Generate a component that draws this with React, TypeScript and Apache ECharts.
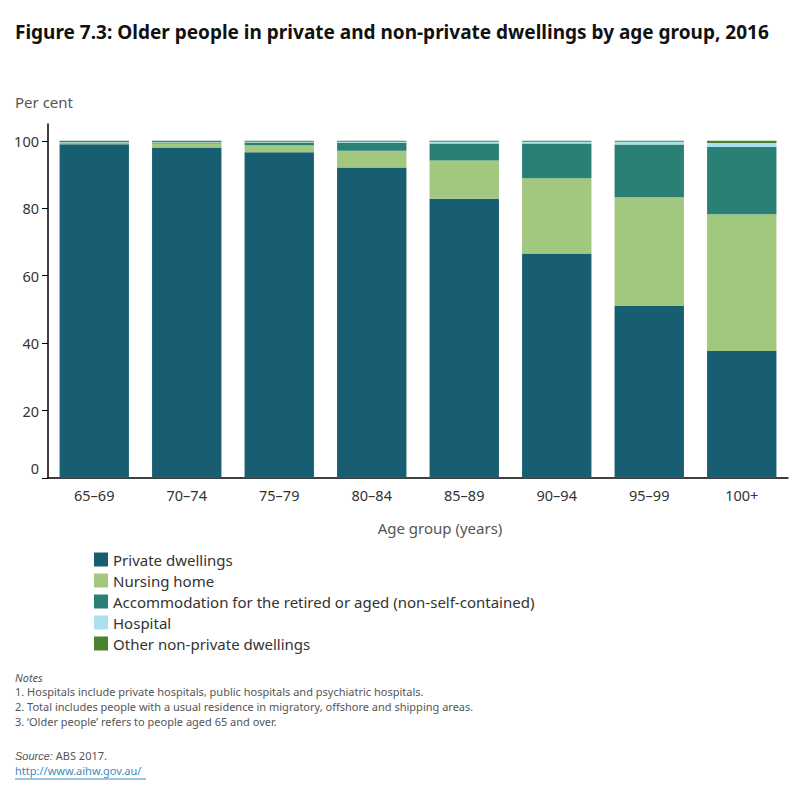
import React, { useEffect, useRef } from "react";
import * as echarts from "echarts";

const ageGroups = ["65–69", "70–74", "75–79", "80–84", "85–89", "90–94", "95–99", "100+"];
const privateDwellings = [99.0, 98.0, 96.6, 92.1, 82.8, 66.6, 51.0, 37.7];
const nursingHome = [0.3, 1.2, 2.1, 5.0, 11.4, 22.3, 32.3, 40.5];
const retiredAccommodation = [0.1, 0.2, 0.8, 2.3, 5.0, 10.3, 15.6, 20.0];
const hospital = [0.2, 0.2, 0.2, 0.3, 0.5, 0.5, 0.8, 1.2];
const otherNonPrivate = [0.4, 0.4, 0.3, 0.3, 0.3, 0.3, 0.3, 0.6];
const yTicks = [0, 20, 40, 60, 80, 100];

const seriesDefs = [
  { name: "Private dwellings", data: privateDwellings, color: "#185e72" },
  { name: "Nursing home", data: nursingHome, color: "#a2c77e" },
  { name: "Accommodation for the retired or aged (non-self-contained)", data: retiredAccommodation, color: "#2b8075" },
  { name: "Hospital", data: hospital, color: "#a9e1ee" },
  { name: "Other non-private dwellings", data: otherNonPrivate, color: "#4b8231" },
];

const notes = [
  "1. Hospitals include private hospitals, public hospitals and psychiatric hospitals.",
  "2. Total includes people with a usual residence in migratory, offshore and shipping areas.",
  "3. \u2018Older people\u2019 refers to people aged 65 and over.",
];

const FONT = "'Noto Sans', sans-serif";

export default function App() {
  const ref = useRef<HTMLDivElement>(null);

  useEffect(() => {
    if (!ref.current) return;
    const chart = echarts.init(ref.current, null, { renderer: "svg" });
    chart.setOption({
      animation: false,
      textStyle: { fontFamily: FONT },
      grid: { left: 48, right: 12, top: 124, bottom: 322, containLabel: false },
      legend: {
        orient: "vertical",
        left: 94,
        top: 552,
        padding: 0,
        itemWidth: 14,
        itemHeight: 14,
        itemGap: 6,
        icon: "rect",
        selectedMode: false,
        textStyle: { fontSize: 15, color: "#333", fontFamily: FONT },
        data: seriesDefs.map((s) => s.name),
      },
      xAxis: {
        type: "category",
        data: ageGroups,
        axisLine: { lineStyle: { color: "#000", width: 1.5 } },
        axisTick: { show: false },
        axisLabel: { fontSize: 14.5, color: "#333", margin: 9 },
      },
      yAxis: {
        type: "value",
        min: 0,
        max: 105,
        splitLine: { show: false },
        axisLine: { show: true, lineStyle: { color: "#000", width: 1.5 } },
        axisTick: { show: true, length: 6, lineStyle: { color: "#000" }, customValues: yTicks },
        axisLabel: {
          customValues: yTicks,
          fontSize: 14.5,
          color: "#333",
          margin: 9,
          formatter: (v: number) => (v === 0 ? "{z|0}" : String(v)),
          rich: { z: { fontSize: 14.5, color: "#333", padding: [0, 0, 20, 0] } },
        },
      },
      series: seriesDefs.map((s) => ({
        name: s.name,
        type: "bar",
        stack: "total",
        data: s.data,
        barCategoryGap: "25%",
        itemStyle: { color: s.color },
        emphasis: { disabled: true },
      })),
      graphic: [
        {
          type: "text",
          left: 15,
          top: 22,
          style: {
            text: "Figure 7.3: Older people in private and non-private dwellings by age group, 2016",
            font: `bold 19px ${FONT}`,
            fill: "#111",
          },
        },
        {
          type: "text",
          left: 15,
          top: 94,
          style: { text: "Per cent", font: `15px ${FONT}`, fill: "#555" },
        },
        {
          type: "text",
          x: 440,
          y: 528,
          style: {
            text: "Age group (years)",
            font: `15px ${FONT}`,
            fill: "#555",
            align: "center",
            verticalAlign: "middle",
          },
        },
        {
          type: "text",
          left: 15,
          top: 672,
          style: { text: "Notes", font: `italic 11px ${FONT}`, fill: "#555" },
        },
        ...notes.map((n, i) => ({
          type: "text",
          left: 15,
          top: 686 + i * 15,
          style: { text: n, font: `11px ${FONT}`, fill: "#555" },
        })),
        {
          type: "text",
          left: 15,
          top: 750,
          style: {
            text: "{i|Source:} ABS 2017.",
            font: `11px ${FONT}`,
            fill: "#555",
            rich: { i: { fontStyle: "italic", fontSize: 11, fill: "#555" } },
          },
        },
        {
          type: "text",
          left: 15,
          top: 765,
          style: { text: "http://www.aihw.gov.au/", font: `11px ${FONT}`, fill: "#3b8dbd" },
        },
        {
          type: "line",
          shape: { x1: 15, y1: 779, x2: 146, y2: 779 },
          style: { stroke: "#3b8dbd", lineWidth: 1 },
        },
      ],
    });
    return () => chart.dispose();
  }, []);

  return (
    <div
      ref={ref}
      style={{ position: "absolute", left: 0, top: 0, width: 800, height: 800, background: "#fff" }}
    />
  );
}
